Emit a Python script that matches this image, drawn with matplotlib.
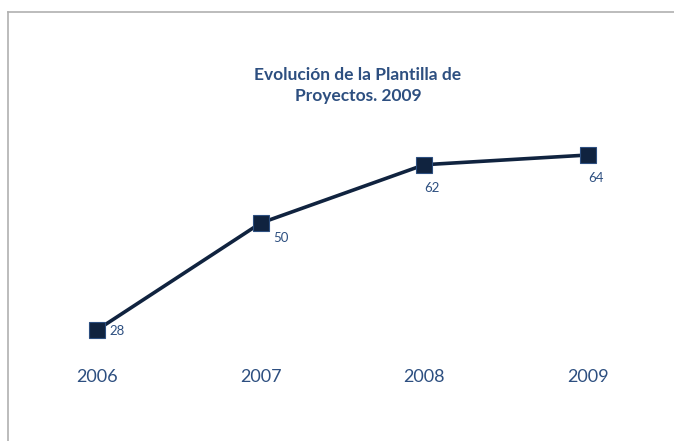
import matplotlib
matplotlib.use("Agg")
import matplotlib.pyplot as plt
from matplotlib.lines import Line2D

years = ["2006", "2007", "2008", "2009"]
values = [28, 50, 62, 64]
label_dx = [20, 20, 8, 8]     # pixel offsets of value labels
label_dy = [-1, -15, -23, -23]

W, H = 674, 441
fig = plt.figure(figsize=(W / 100, H / 100), dpi=100)
plt.rcParams['font.family'] = ['Lato', 'DejaVu Sans']

# frame lines
fig.add_artist(Line2D([8 / W, 8 / W], [0, 1 - 12 / H], transform=fig.transFigure, color="#b0b0b0", lw=1.2))
fig.add_artist(Line2D([8 / W, 1], [1 - 12 / H, 1 - 12 / H], transform=fig.transFigure, color="#b0b0b0", lw=1.2))

x0, x1 = 97, 588
y0, y1 = 330, 155
ax = fig.add_axes([x0 / W, 1 - y0 / H, (x1 - x0) / W, (y0 - y1) / H])
xs = list(range(len(years)))
ax.plot(xs, values, color="#10233f", lw=2.6, marker="s", markersize=11,
        markerfacecolor="#10233f", markeredgecolor="#2d4f80", markeredgewidth=0.8, clip_on=False)
ax.set_xlim(0, len(years) - 1)
ax.set_ylim(min(values), max(values))
for spine in ax.spines.values():
    spine.set_visible(False)
ax.set_yticks([])
ax.set_xticks(xs)
ax.set_xticklabels(years, fontsize=13, color="#2d4f80")
ax.tick_params(axis="x", length=0, pad=28)
ax.patch.set_alpha(0)

for x, v, dx, dy in zip(xs, values, label_dx, label_dy):
    ax.annotate(str(v), (x, v), xytext=(dx * 0.72, dy * 0.72), textcoords="offset points",
                ha="center", va="center", fontsize=9.5, color="#2d4f80")

fig.text(358 / W, 1 - 75 / H, "Evolución de la Plantilla de", ha="center", va="center",
         fontsize=12.5, fontweight="bold", color="#2d4f80")
fig.text(358 / W, 1 - 96 / H, "Proyectos. 2009", ha="center", va="center",
         fontsize=12.5, fontweight="bold", color="#2d4f80")

fig.savefig("out.png", dpi=100)
